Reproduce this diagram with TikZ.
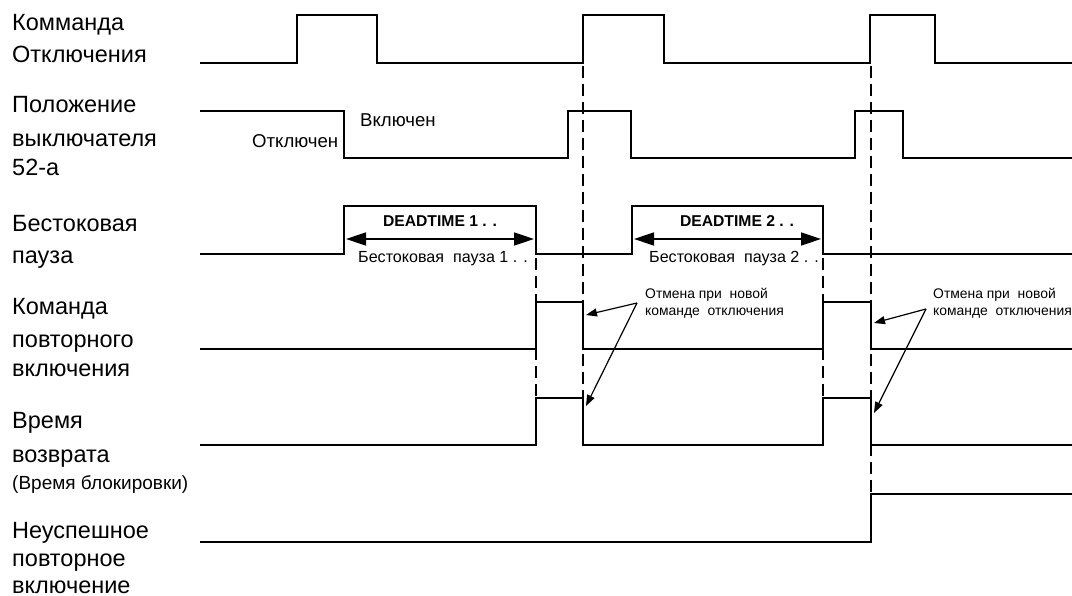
\documentclass[tikz,border=0pt]{standalone}
\usepackage{fontspec}
\setmainfont{Liberation Sans}
\usetikzlibrary{arrows.meta}
\begin{document}
\begin{tikzpicture}[x=1pt,y=-1pt,
  sig/.style={line width=2pt, line join=miter},
  guide/.style={line width=1.2pt, dash pattern=on 12pt off 6pt},
  lbl/.style={anchor=base west, inner sep=0pt, font=\fontsize{23.5}{27}\selectfont},
  sublbl/.style={anchor=base west, inner sep=0pt, font=\fontsize{19}{22}\selectfont},
  state/.style={anchor=base west, inner sep=0pt, font=\fontsize{18.6}{22}\selectfont},
  dtbold/.style={anchor=base, inner sep=0pt, font=\fontsize{15.7}{18}\selectfont\bfseries},
  dtname/.style={anchor=base, inner sep=0pt, font=\fontsize{16.1}{18}\selectfont},
  note/.style={anchor=north west, inner sep=0pt, align=left, font=\fontsize{13.9}{17}\selectfont},
  span/.style={line width=1.5pt, {Triangle[length=20pt,width=13pt]}-{Triangle[length=20pt,width=13pt]}},
  pointer/.style={line width=1.2pt, -{Triangle[length=11pt,width=8pt]}}]
\useasboundingbox (0,0) rectangle (1072,596);

% left labels
\node[lbl] (l1a) at (12,31) {Комманда};
\node[lbl] (l1b) at (12,63) {Отключения};
\node[lbl] (l2a) at (12,113) {Положение};
\node[lbl] (l2b) at (12,147) {выключателя};
\node[lbl] (l2c) at (12,176) {52-а};
\node[lbl] (l3a) at (12,232) {Бестоковая};
\node[lbl] (l3b) at (12,264) {пауза};
\node[lbl] (l4a) at (12,315) {Команда};
\node[lbl] (l4b) at (12,348) {повторного};
\node[lbl] (l4c) at (12,377) {включения};
\node[lbl] (l5a) at (12,428) {Время};
\node[lbl] (l5b) at (12,462) {возврата};
\node[sublbl] (l5c) at (12,489) {(Время блокировки)};
\node[lbl] (l6a) at (12,538) {Неуспешное};
\node[lbl] (l6b) at (12,566) {повторное};
\node[lbl] (l6c) at (12,593) {включение};

% waveforms
\draw[sig] (200,63) -| (297,15) -| (377,63) -| (583,15) -| (664,63) -| (870,15) -| (935,63) -- (1072,63);
\draw[sig] (200,111) -| (344,158) -| (568,111) -| (631,158) -| (855,111) -| (903,158) -- (1072,158);
\draw[sig] (200,254) -| (344,206) -| (536,254) -| (632,206) -| (823,254) -- (1072,254);
\draw[sig] (200,349) -| (536,302) -| (583,349) -| (823,302) -| (871,349) -- (1072,349);
\draw[sig] (200,445) -| (536,398) -| (583,445) -| (823,398) -| (871,445) -- (1072,445);
\draw[sig] (200,542) -| (871,494) -- (1072,494);

% state labels
\node[state] (off) at (252,148) {Отключен};
\node[state] (on) at (360,127) {Включен};

% dashed guides
\draw[guide] (536,258) -- (536,398);
\draw[guide] (583,66) -- (583,398);
\draw[guide] (823,258) -- (823,398);
\draw[guide] (871,66) -- (871,494);

% dead time spans
\coordinate (s1a) at (346,239);
\coordinate (s1b) at (534,239);
\coordinate (s2a) at (634,239);
\coordinate (s2b) at (821,239);
\draw[span] (s1a) -- (s1b);
\draw[span] (s2a) -- (s2b);
\node[dtbold] (dt1) at (440,227) {DEADTIME 1 . .};
\node[dtname] (bp1) at (443,263) {Бестоковая\ \ пауза 1 . .};
\node[dtbold] (dt2) at (737,227) {DEADTIME 2 . .};
\node[dtname] (bp2) at (734,263) {Бестоковая\ \ пауза 2 . .};

% cancellation notes
\node[note] (n1) at (645,288) {Отмена при\ \ новой\\команде\ \ отключения};
\node[note] (n2) at (933,288) {Отмена при\ \ новой\\команде\ \ отключения};
\coordinate (n1o) at (637,303);
\coordinate (n2o) at (926,309);
\coordinate (t1a) at (586,315);
\coordinate (t1b) at (586,406);
\coordinate (t2a) at (874,323);
\coordinate (t2b) at (874,413);
\draw[pointer] (n1o) -- (t1a);
\draw[pointer] (n1o) -- (t1b);
\draw[pointer] (n2o) -- (t2a);
\draw[pointer] (n2o) -- (t2b);
\end{tikzpicture}
\end{document}
